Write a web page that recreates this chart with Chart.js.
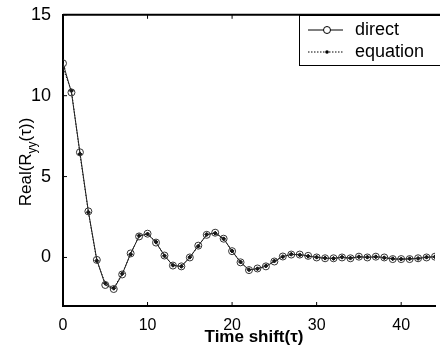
<!DOCTYPE html>
<html>
<head>
<meta charset="utf-8">
<script src="https://cdn.jsdelivr.net/npm/chart.js@4"></script>
<style>
  html, body { margin: 0; padding: 0; background: #fff; overflow: hidden; }
  #wrap { width: 440px; height: 347px; position: relative; }
</style>
</head>
<body>
<div id="wrap"><canvas id="chart" width="440" height="347"></canvas></div>
<script>
const tau = [0,1,2,3,4,5,6,7,8,9,10,11,12,13,14,15,16,17,18,19,20,21,22,23,24,25,26,27,28,29,30,31,32,33,34,35,36,37,38,39,40,41,42,43,44]
const direct = [12.0,10.2,6.5,2.85,-0.15,-1.7,-1.95,-1.05,0.25,1.3,1.47,0.92,0.12,-0.5,-0.55,0.0,0.73,1.4,1.53,1.16,0.39,-0.3,-0.78,-0.68,-0.55,-0.25,0.06,0.18,0.18,0.1,0.0,-0.05,-0.05,0.0,-0.05,0.05,0.0,0.05,0.0,-0.1,-0.1,-0.1,-0.05,0.0,0.05]
const equation = [11.7,10.3,6.4,2.8,-0.2,-1.6,-1.9,-1.0,0.2,1.35,1.45,0.95,0.1,-0.48,-0.55,0.02,0.7,1.42,1.5,1.15,0.4,-0.28,-0.76,-0.7,-0.52,-0.22,0.05,0.2,0.16,0.08,0.02,-0.04,-0.06,0.02,-0.04,0.04,0.02,0.04,-0.02,-0.08,-0.1,-0.08,-0.06,0.02,0.04]
const xTicks = [0, 10, 20, 30, 40]
const yTicks = [0, 5, 10, 15]
const legendLabels = ['direct', 'equation']

const FONT = "'Liberation Sans', Arial, sans-serif"

const frame = {
  id: 'frame',
  afterDraw(chart) {
    const { ctx, chartArea: a, scales } = chart
    ctx.save()
    ctx.strokeStyle = '#000'
    ctx.lineWidth = 2
    ctx.beginPath()
    ctx.moveTo(a.left, a.top)
    ctx.lineTo(440, a.top)
    ctx.stroke()

    // inward tick marks
    ctx.lineWidth = 1
    xTicks.forEach(v => {
      const x = scales.x.getPixelForValue(v)
      ctx.beginPath()
      ctx.moveTo(x, a.bottom); ctx.lineTo(x, a.bottom - 4)
      ctx.moveTo(x, a.top); ctx.lineTo(x, a.top + 4)
      ctx.stroke()
    })
    yTicks.forEach(v => {
      const y = scales.y.getPixelForValue(v)
      ctx.beginPath()
      ctx.moveTo(a.left, y); ctx.lineTo(a.left + 4, y)
      ctx.stroke()
    })

    // legend box
    const bx = 299, by = 15, bw = 150, bh = 50
    ctx.fillStyle = '#fff'
    ctx.fillRect(bx, by, bw, bh)
    ctx.strokeRect(bx + 0.5, by + 0.5, bw, bh)
    ctx.font = '18px ' + FONT
    ctx.fillStyle = '#000'
    ctx.textBaseline = 'middle'
    legendLabels.forEach((lbl, i) => {
      const y = by + 15 + i * 22
      ctx.beginPath()
      ctx.setLineDash(i === 0 ? [] : [1.5, 1.5])
      ctx.moveTo(bx + 9, y); ctx.lineTo(bx + 44, y)
      ctx.stroke()
      ctx.setLineDash([])
      ctx.beginPath()
      if (i === 0) {
        ctx.arc(bx + 28, y, 3.5, 0, Math.PI * 2)
        ctx.fillStyle = '#fff'; ctx.fill(); ctx.stroke()
      } else {
        ctx.arc(bx + 28, y, 1.8, 0, Math.PI * 2)
        ctx.fillStyle = '#000'; ctx.fill()
      }
      ctx.fillStyle = '#000'
      ctx.fillText(lbl, bx + 56, y)
    })

    // axis titles
    ctx.font = 'bold 17px ' + FONT
    ctx.textAlign = 'center'
    ctx.textBaseline = 'alphabetic'
    ctx.fillText('Time shift(τ)', 254, 342)

    ctx.translate(31, 162)
    ctx.rotate(-Math.PI / 2)
    ctx.textAlign = 'left'
    const p1 = 'Real(R', sub = 'yy', p2 = '(τ))'
    ctx.font = '17px ' + FONT
    const w1 = ctx.measureText(p1).width
    ctx.font = '12px ' + FONT
    const ws = ctx.measureText(sub).width
    ctx.font = '17px ' + FONT
    const w2 = ctx.measureText(p2).width
    let x0 = -(w1 + ws + w2) / 2
    ctx.fillText(p1, x0, 0)
    ctx.font = '12px ' + FONT
    ctx.fillText(sub, x0 + w1, 5)
    ctx.font = '17px ' + FONT
    ctx.fillText(p2, x0 + w1 + ws, 0)
    ctx.restore()
  }
}

new Chart(document.getElementById('chart'), {
  type: 'line',
  data: {
    datasets: [
      {
        label: legendLabels[0],
        data: tau.map((t, i) => ({ x: t, y: direct[i] })),
        borderColor: '#222',
        borderWidth: 1,
        pointStyle: 'circle',
        pointRadius: 3.5,
        pointBorderColor: '#333',
        pointBackgroundColor: 'rgba(255,255,255,0)',
        pointBorderWidth: 1,
        tension: 0,
      },
      {
        label: legendLabels[1],
        data: tau.map((t, i) => ({ x: t, y: equation[i] })),
        borderColor: '#111',
        borderWidth: 1,
        borderDash: [1.5, 1.5],
        pointStyle: 'rectRot',
        pointRadius: 2,
        pointBorderColor: '#111',
        pointBackgroundColor: '#111',
        tension: 0,
      }
    ]
  },
  options: {
    responsive: false,
    animation: false,
    layout: { padding: { top: 12, right: 0, left: 0, bottom: 0 } },
    plugins: { legend: { display: false }, tooltip: { enabled: false } },
    scales: {
      x: {
        type: 'linear',
        min: 0,
        max: 44.0,
        afterBuildTicks: s => { s.ticks = xTicks.map(v => ({ value: v })) },
        afterFit: s => { s.height = 41 },
        grid: { display: false },
        border: { display: true, color: '#000', width: 2 },
        ticks: { color: '#000', font: { family: FONT, size: 16 }, padding: 2, maxRotation: 0 }
      },
      y: {
        min: -3,
        max: 15,
        afterBuildTicks: s => { s.ticks = yTicks.map(v => ({ value: v })) },
        afterFit: s => { s.width = 63 },
        grid: { display: false },
        border: { display: true, color: '#000', width: 2 },
        ticks: { color: '#000', font: { family: FONT, size: 18 }, padding: 4 }
      }
    }
  },
  plugins: [frame]
})
</script>
</body>
</html>
